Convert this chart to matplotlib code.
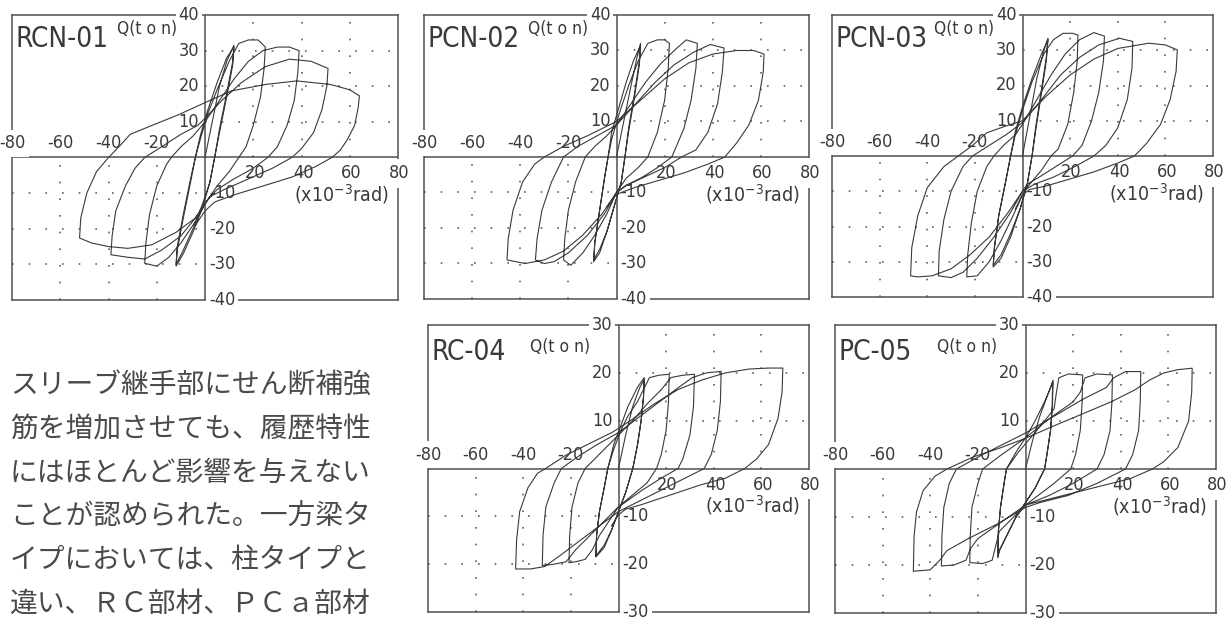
import matplotlib
matplotlib.use("Agg")
import matplotlib.pyplot as plt
from matplotlib import font_manager as fm
from matplotlib.font_manager import FontProperties
import numpy as np

W, H = 1227, 621

# ---------------- data (rotation x10^-3 rad, load Q ton) ----------------
rcn01_loop = [
    (0, 0), (3, 10), (6, 20), (9, 27), (12, 31.5),
    (11.5, 27), (9, 18), (6, 8), (4, 0),
    (2, -7), (-1, -14), (-5, -21), (-9, -27), (-12, -30.5),
    (-11.5, -26), (-9, -17), (-6, -7), (-4, 0),
    (-2, 6), (1, 13), (5, 21), (9, 28), (12, 31),
    (11.5, 26), (9, 17), (6, 7), (4, 0),
    (2, -7), (-1, -13), (-5, -20), (-9, -26), (-12, -30),
    (-11.5, -25), (-9, -16), (-6, -6), (-4, 0),
    (-2, 5), (1, 12), (5, 19), (10, 27), (14, 32), (18, 33), (22, 33), (25, 31),
    (24.5, 25), (23, 17), (20, 9), (17, 3), (14, 0),
    (10, -4), (5, -8), (1, -12), (-4, -18), (-10, -24), (-15, -28), (-20, -30.5), (-25, -29.7),
    (-24.5, -24), (-23, -16), (-20, -8), (-16, -2), (-14, 0),
    (-10, 3), (-5, 6), (0, 10), (6, 16), (12, 22), (18, 27), (24, 30), (30, 31), (35, 31), (39, 30),
    (38.5, 24), (37, 16), (34, 9), (30, 3), (26, 0),
    (20, -3), (12, -6), (5, -9), (1, -12), (-4, -17), (-10, -22), (-18, -26), (-25, -28.5), (-32, -28), (-39, -27.3),
    (-38.5, -22), (-37, -15), (-33, -8), (-29, -3), (-25, 0),
    (-18, 3), (-10, 6.5), (-3, 9), (0, 11), (7, 16), (15, 21), (25, 25.5), (35, 27.6), (44, 27), (51, 25),
    (50.5, 20), (48.5, 13.5), (45, 7), (40, 2.5), (36, 0),
    (28, -3), (18, -6), (8, -9), (2, -11), (0, -13), (-4, -17), (-12, -21), (-22, -24.5), (-32, -25.5), (-40, -25), (-47, -24), (-52, -22.6),
    (-51.5, -17), (-49, -10), (-45, -4), (-40, 0),
    (-35, 3.5), (-31, 6.5), (-22, 9), (-11, 12), (0, 15.4), (11, 18.7), (25, 20.5), (38, 21.5), (52, 20.5), (60, 19), (64, 17.3),
    (63.5, 14), (62, 9), (59, 5), (56, 2), (52.6, 0),
    (46, -2.5), (36, -5.5), (24, -8), (12, -10.5), (4, -12.5), (0, -15), (-4, -19),
]

pcn02_loop = [
    (0, 0), (3, 10), (6, 20), (8.5, 28), (10, 32),
    (9.5, 27), (7.5, 18), (5, 8), (3.5, 0),
    (2, -7), (-1, -14), (-4, -21), (-7, -26), (-9.5, -29),
    (-9, -24), (-7, -15), (-5, -6), (-3.5, 0),
    (-2, 7), (1, 14), (4, 21), (7, 27), (10, 31.5),
    (9.5, 26), (7.5, 17), (5, 7), (3.5, 0),
    (2, -7), (-1, -14), (-4, -21), (-7, -27), (-9.5, -29.5),
    (-9, -24), (-7, -15), (-5, -6), (-3.5, 0),
    (-2, 5), (1, 12), (5, 20), (9, 27), (13, 32), (17, 33), (20, 33), (22, 32),
    (21.5, 25), (20, 16), (17, 7), (13, 0),
    (9, -3), (4, -6), (0, -10), (-4, -16), (-9, -22), (-14, -27), (-19, -30.5), (-22, -29),
    (-21.5, -23), (-20, -15), (-17, -7), (-13, 0),
    (-9, 3), (-4, 6), (0, 9), (6, 15), (12, 21), (18, 26), (24, 30), (29, 33), (33.6, 32),
    (33, 25), (31, 16), (28, 8), (23, 0),
    (17, -3), (10, -6), (4, -8), (0, -10), (-5, -16), (-12, -22), (-20, -27), (-26, -29.5), (-30, -30), (-33.7, -29),
    (-33, -23), (-31, -15), (-27, -7), (-22, 0),
    (-16, 3), (-8, 6), (0, 9), (8, 15), (16, 21), (24, 26), (32, 29.5), (39, 31.7), (44.7, 30.7),
    (44, 24), (42, 15), (38, 7), (33, 2), (27, 0),
    (20, -3), (12, -5.5), (4, -8), (0, -10), (-6, -16), (-14, -22), (-22, -26.5), (-30, -29), (-38, -30), (-45.5, -29),
    (-45, -23), (-43, -15), (-39, -7), (-34, -2), (-30, 0),
    (-22, 3), (-12, 6), (0, 10), (10, 16), (20, 22), (30, 26.5), (40, 29), (50, 30), (57, 30), (61.3, 29),
    (61, 24), (59, 16), (55, 9), (50, 4), (45, 0),
    (38, -2), (28, -4.5), (18, -6.5), (8, -8.5), (0, -10.5), (-4, -14),
]

pcn03_loop = [
    (0, 0), (3, 11), (6, 22), (9, 30), (10.7, 33.4),
    (10, 28), (8, 19), (5.5, 8), (4, 0),
    (2, -8), (-1, -15), (-5, -22), (-9, -28), (-12.3, -31),
    (-11.8, -26), (-10, -17), (-7, -7), (-5, 0),
    (-3, 7), (0, 14), (4, 22), (8, 29), (10.7, 33),
    (10, 27), (8, 18), (5.5, 7), (4, 0),
    (2, -8), (-1, -15), (-5, -23), (-9, -29), (-12.3, -31.5),
    (-11.8, -26), (-10, -17), (-7, -7), (-5, 0),
    (-3, 6), (0, 13), (4, 21), (9, 29), (13, 33), (17, 34.8), (21, 34.8), (23.3, 34.3),
    (23, 27), (21.5, 18), (19, 9), (15, 2), (12, 0),
    (8, -4), (3, -8), (0, -11), (-4, -17), (-9, -24), (-14, -30), (-19, -34), (-23.4, -34.3),
    (-23, -28), (-21.5, -19), (-19, -10), (-15, -3), (-12, 0),
    (-8, 3), (-3, 6), (0, 9), (6, 16), (12, 23), (18, 29), (24, 33), (30, 35), (34.4, 34),
    (34, 27), (32, 18), (29, 10), (25, 3), (21, 0),
    (14, -3), (7, -6), (2, -8), (0, -10), (-5, -16), (-12, -23), (-19, -29), (-25, -33), (-30, -34.5), (-35.3, -34),
    (-35, -27), (-33, -18), (-30, -10), (-25, -3), (-21, 0),
    (-14, 3), (-7, 6), (0, 9.5), (8, 16), (16, 23), (24, 28), (32, 31.5), (40.7, 33.4), (46.3, 32.5),
    (46, 25), (44, 16), (40, 8), (35, 3), (30, 0),
    (22, -3), (13, -6), (5, -8), (0, -10), (-6, -16), (-14, -23), (-22, -28), (-30, -32), (-38, -34), (-44, -34.3), (-47, -34),
    (-46.5, -26), (-44, -17), (-40, -9), (-33, -3), (-27, 0),
    (-21, 3), (-15, 6.6), (-7, 8.5), (0, 10), (10, 17), (20, 23), (30, 27.5), (40, 30.5), (53, 32), (60, 31.5), (65, 30.1),
    (64.5, 24), (62, 16), (58, 9), (52, 3.5), (47, 0),
    (40, -2), (30, -4.5), (20, -6.5), (10, -8.5), (3, -9.5), (0, -11), (-3, -15),
]

rc04_loop = [
    (0, 0), (3, 7), (6, 13), (9, 17), (10.8, 18.6),
    (10.5, 15), (9.5, 10), (8, 5), (6, 0),
    (3, -5), (0, -9), (-3, -13), (-6, -16), (-9.5, -18.3),
    (-9.2, -14), (-8, -9), (-6, -4), (-4.5, 0),
    (-2, 5), (1, 9), (4, 13), (8, 17), (10.8, 19),
    (10.5, 15), (9.5, 10), (8, 5), (6, 0),
    (3, -5), (0, -9), (-3, -13), (-6, -16.5), (-9.5, -18.5),
    (-9.2, -14), (-8, -9), (-6, -4), (-4.5, 0),
    (-2, 4), (1, 8), (4, 11), (8, 14), (11, 17), (13, 19), (17, 19.5), (21.3, 19.7),
    (21, 14), (20, 8), (18, 3), (16, 0),
    (12, -3), (6, -5.5), (0, -8), (-4, -11), (-8, -14), (-11, -17), (-14, -19), (-18, -19.5), (-20.8, -19.7),
    (-20.5, -14), (-19.5, -8), (-17, -3), (-14, 0),
    (-9, 2.5), (-4, 5), (0, 7), (6, 10), (12, 13.5), (18, 16.5), (22, 19), (27, 19.5), (31.9, 19.7),
    (31.5, 13), (30, 7), (27, 2), (25, 0),
    (18, -2), (10, -4.5), (3, -7), (0, -8), (-6, -11), (-12, -14), (-18, -17), (-22, -19.5), (-27, -20), (-32, -20.3),
    (-31.7, -14), (-30.5, -8), (-27, -3), (-24, 0),
    (-17, 2.5), (-9, 5), (0, 7.5), (8, 10.5), (16, 13.5), (24, 16.5), (31, 19), (37, 20), (43.1, 20.3),
    (42.8, 14), (41.5, 8), (39, 3), (36, 0),
    (28, -2), (18, -4.5), (8, -7), (0, -9), (-8, -12), (-16, -15), (-24, -18), (-31, -20.5), (-37, -21), (-43.2, -21),
    (-42.8, -15), (-41.5, -9), (-38, -4), (-34, -1), (-30.6, 0),
    (-22, 2.8), (-11, 5.5), (-2.5, 7.6), (5, 10), (15, 13.5), (25, 16.5), (35, 18.5), (45, 20), (55, 20.8), (63, 21), (69, 21),
    (68.7, 16), (67, 10.5), (63, 5), (58, 2), (53, 0),
    (45, -2), (34, -3.5), (22, -5.5), (10, -7.5), (3, -8.5), (0, -9.7), (-3, -12),
]

pc05_loop = [
    (0, 0), (3, 6), (6, 11), (9, 15), (11.4, 18.2),
    (11.2, 13), (10.5, 8), (9, 3), (8, 0),
    (4, -4), (0, -7), (-4, -10), (-8, -14), (-11, -17), (-11.6, -18.2),
    (-11.4, -13), (-10.5, -8), (-9, -3), (-8, 0),
    (-4, 3.5), (0, 6.5), (4, 10), (8, 14), (11, 17.5), (11.6, 18.5),
    (11.3, 13), (10.5, 8), (9, 3), (8, 0),
    (4, -4), (0, -7), (-4, -10), (-8, -14), (-11, -17), (-11.6, -18.5),
    (-11.4, -13), (-10.5, -8), (-9, -3), (-8, 0),
    (-3, 3.5), (3, 7), (8, 10), (12, 12.5), (13, 16), (14, 19), (18, 19.8), (24, 19.6),
    (23.8, 14), (23, 8), (21, 3), (19, 0),
    (12, -3), (4, -6), (0, -7.5), (-6, -10.5), (-11, -13), (-12.5, -16), (-14, -19), (-18, -19.7), (-23.4, -19.5),
    (-23.2, -14), (-22.5, -8), (-20, -3), (-18, 0),
    (-10, 3), (0, 6.5), (10, 10.5), (20, 14), (23, 16), (25, 19), (30, 19.8), (36.5, 19.6),
    (36.3, 14), (35.5, 8), (33, 3), (30, 0),
    (20, -3), (10, -5.5), (0, -7.5), (-10, -11), (-20, -14.5), (-23, -16.5), (-25, -19), (-30, -20), (-35.3, -20.2),
    (-35.1, -14), (-34.3, -8), (-32, -3), (-29, 0),
    (-18, 3), (-8, 5.5), (0, 7.5), (12, 11), (24, 14.5), (34, 17), (37, 19), (42, 20.3), (48.4, 20.3),
    (48.2, 14), (47.5, 8), (45, 3), (42, 0),
    (30, -3), (18, -5.5), (6, -7), (0, -8), (-12, -11.5), (-24, -14.5), (-33, -17), (-36, -19), (-40, -21), (-47.1, -21.3),
    (-46.8, -14), (-45.8, -9), (-43, -4.5), (-38, -1.5), (-33, 0),
    (-22, 2.5), (-10, 4.5), (0, 6.4), (12, 9), (24, 11.5), (36, 14), (46, 16.5), (52, 18.5), (58, 20), (64, 20.7), (70, 21),
    (69.8, 16), (68.5, 10), (64, 4.5), (58, 1.5), (53.3, 0),
    (44, -2), (32, -3.5), (20, -5), (8, -6.5), (0, -7.5), (-4, -10),
]

titles = ["RCN-01", "PCN-02", "PCN-03", "RC-04", "PC-05"]
loops = [rcn01_loop, pcn02_loop, pcn03_loop, rc04_loop, pc05_loop]
q_max = [40, 40, 40, 30, 30]
x_ticks_neg = [-80, -60, -40, -20]
x_ticks_pos = [20, 40, 60, 80]
x_grid = [20, 40, 60]
q_ticks = [10, 20, 30, 40]

jp_lines = [
    "スリーブ継手部にせん断補強",
    "筋を増加させても、履歴特性",
    "にはほとんど影響を与えない",
    "ことが認められた。一方梁タ",
    "イプにおいては、柱タイプと",
    "違い、ＲＣ部材、ＰＣａ部材",
]

# ---------------- fonts: pick a narrow face for the plotter-style labels ----------------
narrow_path = None
prefs = ["LiberationSansNarrow-Regular", "LiberationSansNarrow", "DejaVuSansCondensed.ttf",
         "RobotoCondensed-Regular", "RobotoCondensed", "OpenSans_Condensed-Regular",
         "OpenSansCondensed", "NotoSans-Condensed", "NotoSansCondensed"]
files = [f.fname for f in fm.fontManager.ttflist]
for p in prefs:
    hits = [f for f in files if p.lower() in f.replace(" ", "").lower()
            and "bold" not in f.lower() and "italic" not in f.lower() and "oblique" not in f.lower()]
    if hits:
        narrow_path = sorted(hits, key=len)[0]
        break
if narrow_path is None:
    for f in fm.fontManager.ttflist:
        if f.stretch in ("condensed", "semi-condensed", "extra-condensed") and f.weight in (400, "normal", "regular") and f.style == "normal":
            narrow_path = f.fname
            break


def nf(size):
    if narrow_path:
        return FontProperties(fname=narrow_path, size=size)
    return FontProperties(family="DejaVu Sans", size=size * 0.85)


# ---------------- layout (pixel frames: left, right, top, bottom) ----------------
frames = [(12, 398, 15, 300), (424, 809, 15, 299), (832, 1213, 15, 297),
          (428, 809, 325, 612), (835, 1216, 325, 613)]

LINE_C = "#3a3a3a"
FRAME_C = "#505050"
GRID_C = "#606060"
TXT_C = "#3a3a3a"
PX = 72.0 / 100.0  # points per pixel

fig = plt.figure(figsize=(W / 100, H / 100), dpi=100)
fig.patch.set_facecolor("white")

for k in range(5):
    l, r, t, b = frames[k]
    ax = fig.add_axes([l / W, 1 - b / H, (r - l) / W, (b - t) / H])
    ym = q_max[k]
    ax.set_xlim(-80, 80)
    ax.set_ylim(-ym, ym)
    ax.set_xticks([])
    ax.set_yticks([])
    for s in ax.spines.values():
        s.set_color(FRAME_C)
        s.set_linewidth(1.1)
        s.set_zorder(1)
    ax.axhline(0, color=FRAME_C, lw=1.1, zorder=1)
    ax.axvline(0, color=FRAME_C, lw=1.1, zorder=1)

    qgrid = [v for v in q_ticks if v < ym]
    dots = (0, (1, 9))
    ax.vlines(x_grid, 0, ym, colors=GRID_C, lw=1.2, linestyles=[dots], zorder=0.5)
    ax.vlines([-g for g in x_grid], -ym, 0, colors=GRID_C, lw=1.2, linestyles=[dots], zorder=0.5)
    ax.hlines(qgrid, 0, 80, colors=GRID_C, lw=1.2, linestyles=[dots], zorder=0.5)
    ax.hlines([-g for g in qgrid], -80, 0, colors=GRID_C, lw=1.2, linestyles=[dots], zorder=0.5)

    pts = np.array(loops[k])
    ax.plot(pts[:, 0], pts[:, 1], color=LINE_C, lw=0.8, zorder=2, solid_joinstyle="round")

    fs = 13
    labs = [v for v in q_ticks if v <= ym]
    for v in labs:
        ax.annotate(str(v), xy=(0, v), xytext=(-6 * PX, 0), textcoords="offset points",
                    ha="right", va="center", fontproperties=nf(fs), color=TXT_C,
                    bbox=dict(facecolor="white", edgecolor="none", pad=2) if v == ym else None,
                    annotation_clip=False, zorder=5)
        ax.annotate(str(-v), xy=(0, -v), xytext=(4 * PX, 0), textcoords="offset points",
                    ha="left", va="center", fontproperties=nf(fs), color=TXT_C,
                    bbox=dict(facecolor="white", edgecolor="none", pad=2) if v == ym else None,
                    annotation_clip=False, zorder=5)
    for v in x_ticks_neg:
        ax.annotate(str(v), xy=(v, 0), xytext=(0, 5 * PX), textcoords="offset points",
                    ha="center", va="bottom", fontproperties=nf(fs), color=TXT_C,
                    bbox=dict(facecolor="white", edgecolor="none", pad=3) if v == -80 else None,
                    annotation_clip=False, zorder=5)
    for v in x_ticks_pos:
        ax.annotate(str(v), xy=(v, 0), xytext=(1.5 * PX, -7 * PX), textcoords="offset points",
                    ha="center", va="top", fontproperties=nf(fs), color=TXT_C,
                    bbox=dict(facecolor="white", edgecolor="none", pad=4) if v == 80 else None,
                    annotation_clip=False, zorder=5)
    # unit label
    ax.annotate("(x10$^{\\mathregular{-3}}$rad)", xy=(80, 0), xytext=(-9 * PX, -37 * PX),
                textcoords="offset points", ha="right", va="center", fontproperties=nf(14),
                color=TXT_C, annotation_clip=False, zorder=5)
    # Q label
    qoff = -5 if k < 3 else -13
    ax.annotate("Q(t o n)", xy=(0, ym), xytext=(-28 * PX, qoff * PX), textcoords="offset points",
                ha="right", va="top", fontproperties=nf(12.5), color=TXT_C,
                annotation_clip=False, zorder=5)
    # title
    toff = -10 if k < 3 else -13
    ax.annotate(titles[k], xy=(-80, ym), xytext=(3 * PX, toff * PX), textcoords="offset points",
                ha="left", va="top", fontproperties=nf(20), color=TXT_C,
                annotation_clip=False, zorder=5)

# Japanese body text
jp_baseline = [394, 437.5, 481, 524.5, 568, 611.5]
for line, yb in zip(jp_lines, jp_baseline):
    fig.text(10 / W, 1 - yb / H, line, ha="left", va="baseline", fontsize=20,
             family=["Noto Sans CJK JP", "DejaVu Sans"], color="#4a4a4a")

fig.savefig("out.png", dpi=100, facecolor="white")
